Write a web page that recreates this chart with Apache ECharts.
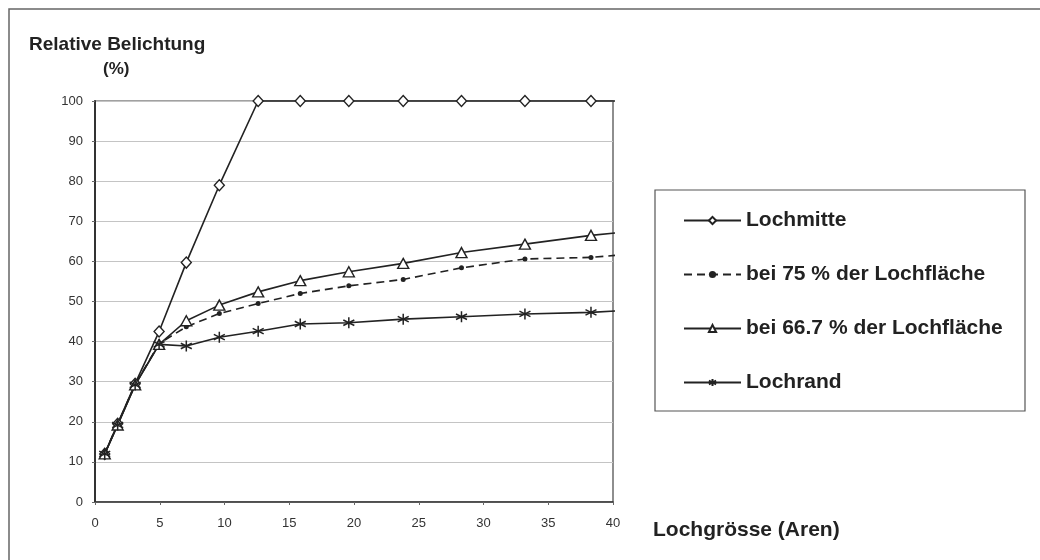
<!DOCTYPE html>
<html>
<head>
<meta charset="utf-8">
<title>Relative Belichtung</title>
<script src="https://cdn.jsdelivr.net/npm/echarts@6/dist/echarts.min.js"></script>
<style>
  html, body { margin: 0; padding: 0; background: #fff; }
  #chart { width: 1040px; height: 560px; }
</style>
</head>
<body>
<div id="chart"></div>
<script>
// Lochgrösse (Aren) – the last entry is the unmarked end of each line
const lochgroesse = [0.75, 1.75, 3.1, 4.95, 7.05, 9.6, 12.6, 15.85, 19.6, 23.8, 28.3, 33.2, 38.3, 40.5];

// Relative Belichtung (%)
const lochmitte   = [12, 19.5, 29.5, 42.5, 59.7, 79.0, 100, 100, 100, 100, 100, 100, 100, 100];
const bei75       = [12, 19.5, 29.3, 39.5, 43.7, 47.0, 49.5, 52.0, 53.9, 55.5, 58.4, 60.6, 61.0, 61.6];
const bei667      = [12, 19.2, 29.2, 39.3, 45.2, 49.1, 52.4, 55.2, 57.4, 59.5, 62.2, 64.3, 66.5, 67.2];
const lochrand    = [12, 19.2, 29.2, 39.3, 38.9, 41.1, 42.6, 44.4, 44.7, 45.6, 46.2, 46.9, 47.3, 47.7];

const seriesNames = ['Lochmitte', 'bei 75 % der Lochfläche', 'bei 66.7 % der Lochfläche', 'Lochrand'];
const xTicks = [0, 5, 10, 15, 20, 25, 30, 35, 40];
const yTicks = [0, 10, 20, 30, 40, 50, 60, 70, 80, 90, 100];

const FONT = '"Liberation Sans", Arial, Helvetica, sans-serif';
const INK = '#222';
const starPath = 'path://M0,-1L0,1M-0.87,-0.5L0.87,0.5M-0.87,0.5L0.87,-0.5';

function pairs(ys) {
  const last = ys.length - 1;
  return ys.map((y, i) => i === last
    ? { value: [lochgroesse[i], y], symbol: 'none' }
    : [lochgroesse[i], y]);
}

function lineSeries(name, ys, extra) {
  return Object.assign({
    name: name,
    type: 'line',
    data: pairs(ys),
    clip: false,
    animation: false,
    lineStyle: { color: INK, width: 1.6 },
    itemStyle: { color: '#fff', borderColor: INK, borderWidth: 1.4 }
  }, extra);
}

const chart = echarts.init(document.getElementById('chart'), null, { renderer: 'canvas' });

chart.setOption({
  backgroundColor: '#fff',
  animation: false,
  textStyle: { fontFamily: FONT },
  grid: {
    left: 95, right: 427, top: 101, bottom: 58,
    show: true, borderColor: '#444', borderWidth: 1.2, backgroundColor: 'transparent'
  },
  xAxis: {
    type: 'value',
    min: xTicks[0], max: xTicks[xTicks.length - 1], interval: 5,
    axisLine: { show: true, onZero: false, lineStyle: { color: '#333', width: 1.5 } },
    axisTick: { show: true, length: 3, lineStyle: { color: '#666' } },
    axisLabel: { color: '#333', fontSize: 13, margin: 15, fontFamily: FONT },
    splitLine: { show: false }
  },
  yAxis: {
    type: 'value',
    min: yTicks[0], max: yTicks[yTicks.length - 1], interval: 10,
    axisLine: { show: true, lineStyle: { color: '#333', width: 2 } },
    axisTick: { show: true, length: 3, lineStyle: { color: '#666' } },
    axisLabel: { color: '#333', fontSize: 13, margin: 12, fontFamily: FONT },
    splitLine: { show: true, lineStyle: { color: '#c4c4c4', width: 1 } }
  },
  legend: {
    data: seriesNames,
    orient: 'vertical',
    left: 683, top: 210,
    padding: 0,
    itemWidth: 57, itemHeight: 9, itemGap: 33,
    selectedMode: false,
    textStyle: { color: INK, fontSize: 21, fontWeight: 'bold', fontFamily: FONT }
  },
  graphic: [
    { type: 'rect', silent: true, z: -1,
      shape: { x: 9, y: 9, width: 1100, height: 620 },
      style: { fill: 'none', stroke: '#666', lineWidth: 1.5 } },
    { type: 'rect', silent: true,
      shape: { x: 655, y: 190, width: 370, height: 221 },
      style: { fill: 'none', stroke: '#555', lineWidth: 1.2 } },
    { type: 'text', left: 29, top: 35, silent: true,
      style: { text: 'Relative Belichtung', fill: INK, font: 'bold 19px ' + FONT } },
    { type: 'text', left: 103, top: 61, silent: true,
      style: { text: '(%)', fill: INK, font: 'bold 17px ' + FONT } },
    { type: 'text', left: 653, top: 520, silent: true,
      style: { text: 'Lochgrösse (Aren)', fill: INK, font: 'bold 21px ' + FONT } }
  ],
  series: [
    lineSeries(seriesNames[0], lochmitte, { symbol: 'diamond', symbolSize: [10, 11] }),
    lineSeries(seriesNames[1], bei75, {
      symbol: 'circle', symbolSize: 5,
      lineStyle: { color: INK, width: 1.6, type: [8, 5] },
      itemStyle: { color: INK, borderColor: INK, borderWidth: 0 }
    }),
    lineSeries(seriesNames[2], bei667, { symbol: 'triangle', symbolSize: [11, 10] }),
    lineSeries(seriesNames[3], lochrand, {
      symbol: starPath, symbolSize: 11,
      itemStyle: { color: INK, borderColor: INK, borderWidth: 1.5 }
    })
  ]
});
</script>
</body>
</html>
